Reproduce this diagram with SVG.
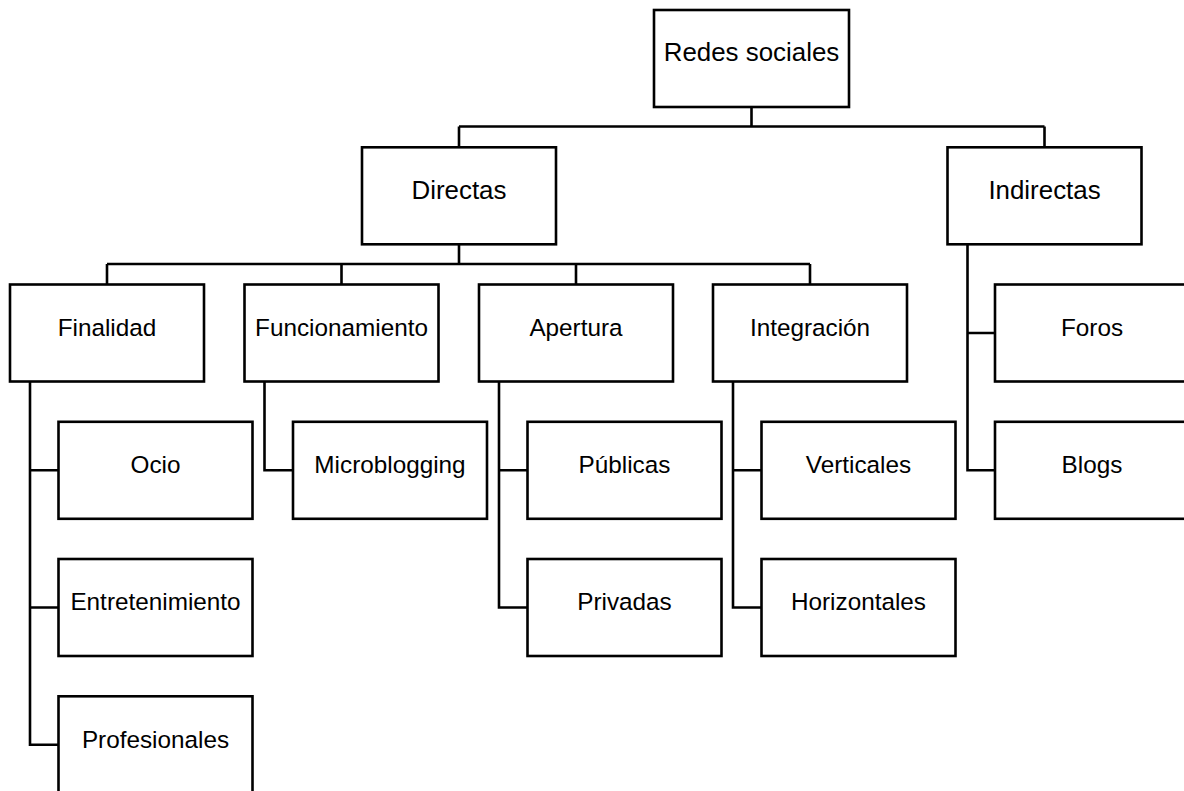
<svg xmlns="http://www.w3.org/2000/svg" width="1184" height="791" viewBox="0 0 1184 791">
<style>
.box{fill:#ffffff;stroke:#000000;stroke-width:2.6}
.lbl{font-family:"Liberation Sans",Arial,sans-serif;font-size:24.3px;fill:#000000;text-anchor:middle}
.big{font-size:25.9px}
.conn{fill:none;stroke:#000000;stroke-width:2.6}
</style>
<rect x="0" y="0" width="1184" height="791" fill="#ffffff"/>
<g id="connectors">
<path class="conn" d="M751.5 107 V126.5 M459 126.5 H1044.5 M459 126.5 V147.3 M1044.5 126.5 V147.3"/>
<path class="conn" d="M459 244.3 V264 M107 264 H810 M107 264 V284.5 M341.5 264 V284.5 M576 264 V284.5 M810 264 V284.5"/>
<path class="conn" d="M30 381.5 V744.8 H58.5 M30 470.3 H58.5 M30 607.5 H58.5"/>
<path class="conn" d="M264.5 381.5 V470.3 H293"/>
<path class="conn" d="M499 381.5 V607.5 H527.5 M499 470.3 H527.5"/>
<path class="conn" d="M733 381.5 V607.5 H761.5 M733 470.3 H761.5"/>
<path class="conn" d="M967.5 244.3 V470.3 H995 M967.5 333 H995"/>
</g>
<g id="n-redes"><rect class="box" x="654" y="10" width="195" height="97"/><text class="lbl big" x="751.5" y="61">Redes sociales</text></g>
<g id="n-directas"><rect class="box" x="362" y="147.3" width="194" height="97"/><text class="lbl big" x="459" y="199">Directas</text></g>
<g id="n-indirectas"><rect class="box" x="947.5" y="147.3" width="194" height="97"/><text class="lbl big" x="1044.5" y="199">Indirectas</text></g>
<g id="n-finalidad"><rect class="box" x="10" y="284.5" width="194" height="97"/><text class="lbl" x="107" y="335.7">Finalidad</text></g>
<g id="n-funcionamiento"><rect class="box" x="244.5" y="284.5" width="194" height="97"/><text class="lbl" x="341.5" y="335.7">Funcionamiento</text></g>
<g id="n-apertura"><rect class="box" x="479" y="284.5" width="194" height="97"/><text class="lbl" x="576" y="335.7">Apertura</text></g>
<g id="n-integracion"><rect class="box" x="713" y="284.5" width="194" height="97"/><text class="lbl" x="810" y="335.7">Integración</text></g>
<g id="n-foros"><rect class="box" x="995" y="284.5" width="194" height="97"/><text class="lbl" x="1092" y="335.7">Foros</text></g>
<g id="n-ocio"><rect class="box" x="58.5" y="421.8" width="194" height="97"/><text class="lbl" x="155.5" y="473">Ocio</text></g>
<g id="n-microblogging"><rect class="box" x="293" y="421.8" width="194" height="97"/><text class="lbl" x="390" y="473">Microblogging</text></g>
<g id="n-publicas"><rect class="box" x="527.5" y="421.8" width="194" height="97"/><text class="lbl" x="624.5" y="473">Públicas</text></g>
<g id="n-verticales"><rect class="box" x="761.5" y="421.8" width="194" height="97"/><text class="lbl" x="858.5" y="473">Verticales</text></g>
<g id="n-blogs"><rect class="box" x="995" y="421.8" width="194" height="97"/><text class="lbl" x="1092" y="473">Blogs</text></g>
<g id="n-entretenimiento"><rect class="box" x="58.5" y="559" width="194" height="97"/><text class="lbl" x="155.5" y="610.2">Entretenimiento</text></g>
<g id="n-privadas"><rect class="box" x="527.5" y="559" width="194" height="97"/><text class="lbl" x="624.5" y="610.2">Privadas</text></g>
<g id="n-horizontales"><rect class="box" x="761.5" y="559" width="194" height="97"/><text class="lbl" x="858.5" y="610.2">Horizontales</text></g>
<g id="n-profesionales"><rect class="box" x="58.5" y="696.3" width="194" height="97"/><text class="lbl" x="155.5" y="747.5">Profesionales</text></g>
</svg>
